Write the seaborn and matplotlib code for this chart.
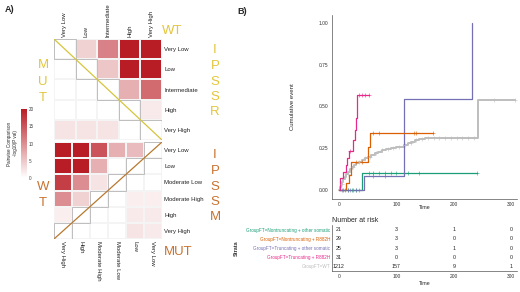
import numpy as np
import pandas as pd
import matplotlib.pyplot as plt
import seaborn as sns
from matplotlib.colors import LinearSegmentedColormap
from matplotlib.patches import Rectangle

# === 0. Data ===
# Panel A: pairwise comparison heatmaps, -log10(P val); upper/lower triangle = WT / MUT
ipssr_cats = ["Very Low", "Low", "Intermediate", "High", "Very High"]
ipssr_vals = [
    [np.nan, 4, 11, 20, 20],
    [np.nan, np.nan, 5, 20, 20],
    [np.nan, np.nan, np.nan, 7, 13],
    [np.nan, np.nan, np.nan, np.nan, 2],
    [2.5, 2.5, 2.5, np.nan, np.nan],
]

ipssm_rows = ["Very Low", "Low", "Moderate Low", "Moderate High", "High", "Very High"]
ipssm_cols = ["Very High", "High", "Moderate High", "Moderate Low", "Low", "Very Low"]
ipssm_vals = [
    [20, 20, 15, 7, 6, np.nan],
    [20, 20, 7, np.nan, np.nan, np.nan],
    [17, 10, 2.5, np.nan, np.nan, np.nan],
    [10, 4, np.nan, np.nan, 1.5, 1.5],
    [1.5, np.nan, np.nan, np.nan, 2, 2],
    [np.nan, np.nan, np.nan, np.nan, 2.5, 2],
]

# Panel B: cumulative event curves (step-post)
groups = [
    "GroupFT=Nontruncating + other somatic",
    "GroupFT=Nontruncating + R882H",
    "GroupFT=Truncating + other somatic",
    "GroupFT=Truncating + R882H",
    "GroupFT=WT",
]
colors = ["#1B9E77", "#D95F02", "#7570B3", "#E7298A", "#BEBEBE"]

teal_t = [0, 40, 241]
teal_y = [0, 0.10, 0.10]
orange_t = [0, 12, 17, 21, 50, 54, 163]
orange_y = [0, 0.04, 0.09, 0.17, 0.255, 0.34, 0.34]
purple_t = [0, 43, 114, 231]
purple_y = [0, 0.084, 0.545, 1.0]
pink_t = [0, 2, 7, 12, 14, 18, 25, 28, 30, 32, 52]
pink_y = [0, 0.07, 0.11, 0.15, 0.19, 0.235, 0.30, 0.36, 0.43, 0.57, 0.57]
gray_t = [0, 2, 4, 6, 8, 10, 13, 16, 19, 22, 26, 30, 35, 40, 45, 50, 56, 62, 68,
          75, 82, 90, 100, 108, 114, 120, 126, 132, 140, 150, 242, 307]
gray_y = [0, 0.02, 0.035, 0.05, 0.065, 0.08, 0.095, 0.11, 0.125, 0.14, 0.15, 0.16,
          0.17, 0.18, 0.19, 0.20, 0.21, 0.22, 0.23, 0.24, 0.245, 0.25, 0.255, 0.26,
          0.27, 0.28, 0.29, 0.30, 0.305, 0.31, 0.54, 0.54]

teal_cens = [8, 15, 22, 30, 52, 60, 70, 80, 90, 100, 120, 140, 241]
orange_cens = [30, 40, 60, 70, 130, 135, 163]
purple_cens = [5, 10, 15, 20, 25, 30, 35, 60, 80]
pink_cens = [20, 35, 40, 45, 52]
gray_cens = [5, 15, 25, 35, 45, 55, 65, 75, 85, 95, 105, 115, 125, 135, 145, 155,
             165, 175, 185, 195, 205, 215, 225, 235, 270, 307]

risk_times = [0, 100, 200, 300]
risk_nontrunc_other = [21, 3, 1, 0]
risk_nontrunc_hot = [29, 3, 0, 0]
risk_trunc_other = [25, 3, 1, 0]
risk_trunc_hot = [31, 0, 0, 0]
risk_wt = [1212, 157, 9, 1]

# === 1. Setup ===
sns.set_theme(style="white")
plt.rcParams["font.family"] = ["Liberation Sans", "DejaVu Sans"]

W, H = 520, 292
fig = plt.figure(figsize=(W / 100, H / 100), dpi=100)


def box(x0, y0, x1, y1):
    return [x0 / W, 1 - y1 / H, (x1 - x0) / W, (y1 - y0) / H]


yellow = "#E3C63A"
brown = "#C8722F"
cmap = LinearSegmentedColormap.from_list("wr", ["#FFFFFF", "#B81C24"])

# === 2. Panel A: heatmaps ===
ax1 = fig.add_axes(box(54, 39, 162, 140))
ax2 = fig.add_axes(box(54, 142, 162, 239))
cax = fig.add_axes(box(21, 109, 27, 178))

df_r = pd.DataFrame(ipssr_vals, index=ipssr_cats, columns=ipssr_cats)
sns.heatmap(df_r, ax=ax1, cmap=cmap, vmin=0, vmax=20, cbar_ax=cax,
            xticklabels=True, yticklabels=True,
            linewidths=0.3, linecolor="#f4f4f4")
df_m = pd.DataFrame(ipssm_vals, index=ipssm_rows, columns=ipssm_cols)
sns.heatmap(df_m, ax=ax2, cmap=cmap, vmin=0, vmax=20, cbar=False,
            xticklabels=True, yticklabels=True,
            linewidths=0.3, linecolor="#f4f4f4")

n1 = len(ipssr_cats)
for i in range(n1):
    ax1.add_patch(Rectangle((i, i), 1, 1, fill=False, ec="#b5b5b5", lw=0.6))
ax1.plot([0, n1], [0, n1], color="#D6C43C", lw=0.9)
n2 = len(ipssm_rows)
for r in range(n2):
    ax2.add_patch(Rectangle((n2 - 1 - r, r), 1, 1, fill=False, ec="#b5b5b5", lw=0.6))
ax2.plot([0, n2], [n2, 0], color="#B8782E", lw=0.9)

ax1.xaxis.tick_top()
ax1.set_xticklabels(ipssr_cats, rotation=90, fontsize=4.3)
ax1.yaxis.tick_right()
ax1.set_yticklabels(ipssr_cats, rotation=0, fontsize=4.3)
ax2.set_xticklabels(ipssm_cols, rotation=-90, fontsize=4.3)
ax2.yaxis.tick_right()
ax2.set_yticklabels(ipssm_rows, rotation=0, fontsize=4.3)
for ax in (ax1, ax2):
    ax.set_xlabel("")
    ax.set_ylabel("")
    ax.tick_params(length=0, pad=1.5, colors="#222222")

cbar = ax1.collections[0].colorbar
cbar.set_ticks([0, 5, 10, 15, 20])
cbar.outline.set_visible(False)
cbar.ax.tick_params(labelsize=3.3, length=0, pad=1.5, colors="#444444")
cbar.ax.set_ylabel("Pairwise Comparison\n-log10(P val)", fontsize=3.3, labelpad=2)
cbar.ax.yaxis.set_label_position("left")

big = dict(fontsize=9.5, ha="center", va="center")
fig.text(172 / W, 1 - 31 / H, "WT", color=yellow, **big)
for ch, yy in zip("MUT", [65, 82, 98]):
    fig.text(43 / W, 1 - yy / H, ch, color=yellow, **big)
for ch, yy in zip("IPSSR", [50, 66, 82, 97, 112]):
    fig.text(215 / W, 1 - yy / H, ch, color=yellow, **big)
for ch, yy in zip("IPSSM", [155, 171, 187, 202, 217]):
    fig.text(215 / W, 1 - yy / H, ch, color=brown, **big)
for ch, yy in zip("WT", [187, 203]):
    fig.text(43 / W, 1 - yy / H, ch, color=brown, **big)
fig.text(178 / W, 1 - 252 / H, "MUT", color=brown, **big)

fig.text(5 / W, 1 - 10 / H, "A)", fontsize=6.5, fontweight="bold", va="center")
fig.text(237 / W, 1 - 11 / H, "B)", fontsize=6.5, fontweight="bold", va="center")

# === 3. Panel B: cumulative event ===
ax3 = fig.add_axes(box(332, 15, 517, 199))
curves = [(teal_t, teal_y, teal_cens), (orange_t, orange_y, orange_cens),
          (purple_t, purple_y, purple_cens), (pink_t, pink_y, pink_cens),
          (gray_t, gray_y, gray_cens)]
draw_order = [4, 0, 2, 1, 3]
for k in draw_order:
    t, y, cens = curves[k]
    d = pd.DataFrame({"time": t, "cum": y})
    sns.lineplot(data=d, x="time", y="cum", ax=ax3, color=colors[k],
                 estimator=None, sort=False, drawstyle="steps-post",
                 lw=1.4 if k == 4 else 0.9)
    idx = np.searchsorted(t, cens, side="right") - 1
    c = pd.DataFrame({"time": cens, "cum": np.array(y)[idx]})
    sns.scatterplot(data=c, x="time", y="cum", ax=ax3, color=colors[k],
                    marker="+", s=5, linewidth=0.4, zorder=3)

ax3.set_xlim(-12, 310)
ax3.set_ylim(-0.054, 1.048)
ax3.set_xticks([0, 100, 200, 300])
ax3.set_yticks([0, 0.25, 0.5, 0.75, 1.0])
ax3.set_yticklabels(["0.00", "0.25", "0.50", "0.75", "1.00"])
ax3.tick_params(labelsize=3.5, length=1.5, width=0.4, pad=1, colors="#333333")
ax3.set_xlabel("Time", fontsize=3.8)
ax3.set_ylabel("Cumulative event", fontsize=4.3)
ax3.xaxis.set_label_coords(0.5, -0.035)
ax3.yaxis.set_label_coords(-0.2, 0.5)
sns.despine(ax=ax3)
for s in ("left", "bottom"):
    ax3.spines[s].set_linewidth(0.5)
    ax3.spines[s].set_color("#555555")

# === 4. Risk table ===
ax4 = fig.add_axes(box(332, 225, 517, 271))
risk = [risk_nontrunc_other, risk_nontrunc_hot, risk_trunc_other, risk_trunc_hot, risk_wt]
n_g = len(groups)
for i, counts in enumerate(risk):
    for tt, n in zip(risk_times, counts):
        ax4.text(tt, n_g - i, str(n), ha="center", va="center", fontsize=3.8,
                 color="#222222")
ax4.set_xlim(-12, 310)
ax4.set_ylim(0.5, n_g + 0.5)
ax4.set_xticks(risk_times)
ax4.set_yticks([n_g - i for i in range(n_g)])
ax4.set_yticklabels(groups, fontsize=3.3)
for lab, col in zip(ax4.get_yticklabels(), colors):
    lab.set_color(col)
ax4.tick_params(axis="x", labelsize=3.5, length=1.5, width=0.4, pad=1, colors="#333333")
ax4.tick_params(axis="y", length=0, pad=1.5)
ax4.set_xlabel("Time", fontsize=3.8)
ax4.xaxis.set_label_coords(0.5, -0.22)
ax4.set_title("Number at risk", loc="left", fontsize=5, pad=2.5)
sns.despine(ax=ax4)
for s in ("left", "bottom"):
    ax4.spines[s].set_linewidth(0.5)
    ax4.spines[s].set_color("#555555")
fig.text(236 / W, 1 - 248 / H, "Strata", rotation=90, fontsize=4, fontweight="bold",
         ha="center", va="center", color="#333333")

fig.savefig("out.png", dpi=100)
